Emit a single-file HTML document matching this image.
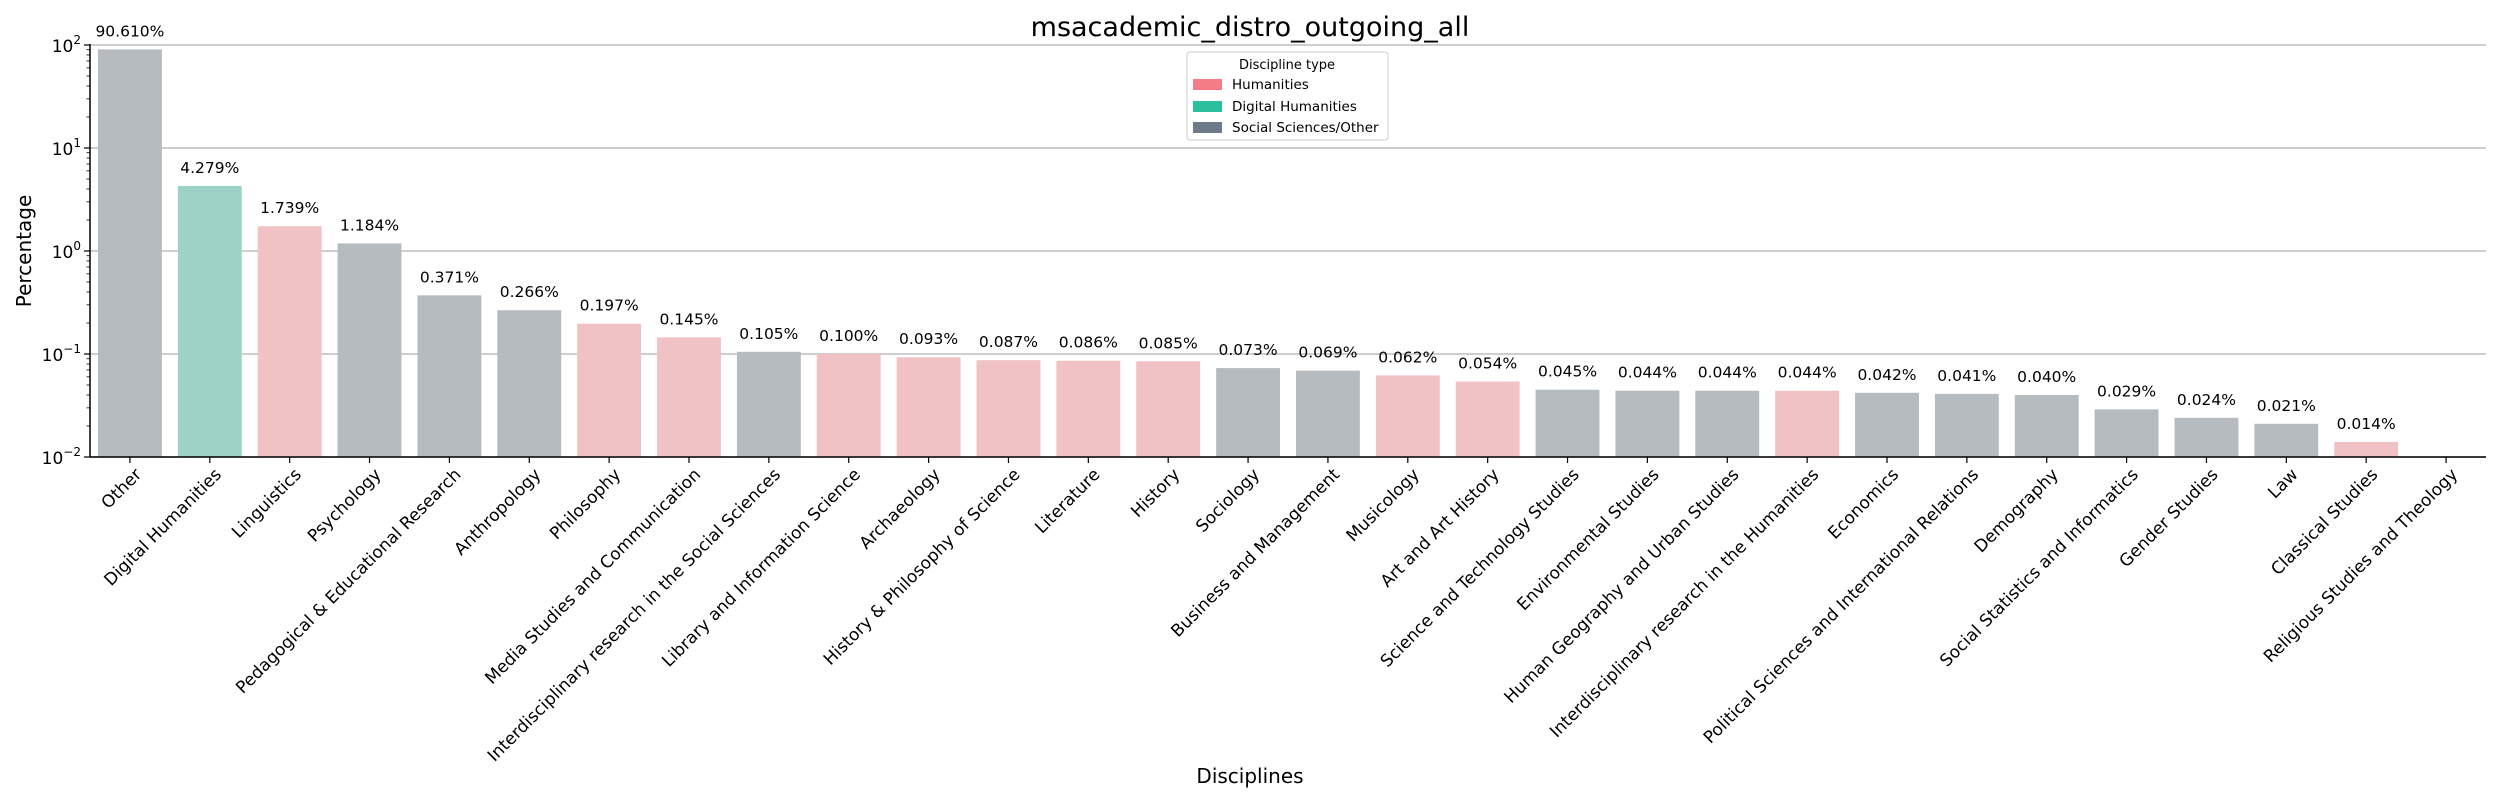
<!DOCTYPE html>
<html><head><meta charset="utf-8"><style>
html,body{margin:0;padding:0;background:#fff;}
svg{display:block;font-family:"DejaVu Sans","Liberation Sans",sans-serif;}
</style></head><body>
<svg id="chart" width="2500" height="800" viewBox="0 0 2500 800">
<text x="1250" y="36" font-size="27" text-anchor="middle">msacademic_distro_outgoing_all</text>
<text x="1250" y="783" font-size="20" text-anchor="middle">Disciplines</text>
<text transform="translate(31,251) rotate(-90)" font-size="20" text-anchor="middle">Percentage</text>
<g id="grid"></g><g id="bars"></g><g id="axes"></g>
<g>
<rect x="1187" y="52" width="201" height="88" rx="3" fill="#fff" stroke="#ccc"/>
<text x="1287" y="69" font-size="13" text-anchor="middle">Discipline type</text>
<rect x="1193" y="79" width="29" height="11" fill="#f47c86"/>
<text x="1232" y="89" font-size="13.5">Humanities</text>
<rect x="1193" y="101" width="29" height="11" fill="#2bbf9b"/>
<text x="1232" y="111" font-size="13.5">Digital Humanities</text>
<rect x="1193" y="122" width="29" height="11" fill="#6c7a89"/>
<text x="1232" y="132" font-size="13.5">Social Sciences/Other</text>
</g>
</svg>
<script>
const categories=["Other","Digital Humanities","Linguistics","Psychology","Pedagogical & Educational Research","Anthropology","Philosophy","Media Studies and Communication","Interdisciplinary research in the Social Sciences","Library and Information Science","Archaeology","History & Philosophy of Science","Literature","History","Sociology","Business and Management","Musicology","Art and Art History","Science and Technology Studies","Environmental Studies","Human Geography and Urban Studies","Interdisciplinary research in the Humanities","Economics","Political Sciences and International Relations","Demography","Social Statistics and Informatics","Gender Studies","Law","Classical Studies","Religious Studies and Theology"];
const values=[90.610,4.279,1.739,1.184,0.371,0.266,0.197,0.145,0.105,0.100,0.093,0.087,0.086,0.085,0.073,0.069,0.062,0.054,0.045,0.044,0.044,0.044,0.042,0.041,0.040,0.029,0.024,0.021,0.014,0];
const types=["S","D","H","S","S","S","H","H","S","H","H","H","H","H","S","S","H","H","S","S","S","H","S","S","S","S","S","S","H","H"];
const yTicks=[-2,-1,0,1,2];
const NS="http://www.w3.org/2000/svg";
const X0=90,X1=2486,Y0=457,YT=45,yMin=-2,yMax=2;
const n=categories.length,band=(X1-X0)/n;
const xc=i=>X0+band*(i+0.5);
const y=v=>Y0-(Math.log10(v)-yMin)/(yMax-yMin)*(Y0-YT);
const col={H:"#f0c1c5",D:"#9dd3c6",S:"#b6bbbf"};
function mk(tag,attrs,parent){const e=document.createElementNS(NS,tag);for(const k in attrs)e.setAttribute(k,attrs[k]);parent.appendChild(e);return e;}
const grid=document.getElementById('grid'),bars=document.getElementById('bars'),axes=document.getElementById('axes');
yTicks.forEach(t=>{
 const yy=y(Math.pow(10,t));
 const g=mk('line',{x1:X0,x2:X1,y1:yy,y2:yy,stroke:'#b0b0b0','stroke-width':1.2},grid);
 
 
 mk('line',{x1:X0-6,x2:X0,y1:yy,y2:yy,stroke:'#000','stroke-width':1.2},axes);
 const tx=mk('text',{x:X0-9,y:yy+7,'font-size':17,'text-anchor':'end'},axes);
 tx.innerHTML='10<tspan dy="-8" font-size="12">'+(t<0?'\u2212':'')+Math.abs(t)+'</tspan>';
 
 
 if(t<yMax){for(let m=2;m<10;m++){const my=y(m*Math.pow(10,t));mk('line',{x1:X0-3.5,x2:X0,y1:my,y2:my,stroke:'#000','stroke-width':0.8},axes);}}
});
categories.forEach((c,i)=>{
 const v=values[i],cx=xc(i),w=band*0.8;
 if(v>0){
  const top=Math.max(y(v),YT);
  const r=mk('rect',{x:cx-w/2,y:top,width:w,height:Y0-top,fill:col[types[i]]},bars);
  
  
  const l=mk('text',{x:cx,y:y(v)-13,'font-size':15.5,'text-anchor':'middle'},bars);
  l.textContent=v.toFixed(3)+'%';
  
  
 }
 mk('line',{x1:cx,x2:cx,y1:Y0,y2:Y0+6,stroke:'#000','stroke-width':1.2},axes);
 const t=mk('text',{transform:`translate(${cx+4},${Y0+10}) rotate(-45)`,'font-size':17,'text-anchor':'end','dominant-baseline':'hanging'},axes);
 t.textContent=c;
 
 
});
const sl=mk('line',{x1:X0,x2:X0,y1:YT-1,y2:Y0,stroke:'#000','stroke-width':1.5},axes);


const sb=mk('line',{x1:X0,x2:X1,y1:Y0,y2:Y0,stroke:'#000','stroke-width':1.5},axes);


</script>
</body></html>
